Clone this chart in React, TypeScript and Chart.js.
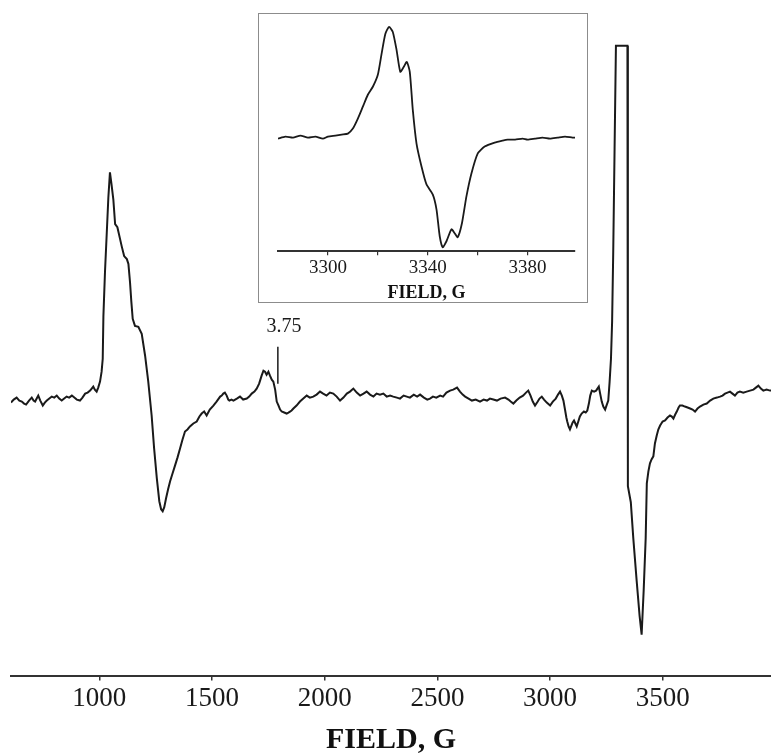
import React, { useEffect, useRef } from "react";
import { Chart, registerables } from "chart.js";

Chart.register(...registerables);

// ---- Main spectrum (magnetic field in G, signal in arbitrary units) ----
const mainField = [
  608, 620, 633, 645, 656, 666, 675, 688, 700, 708, 715, 722, 729, 738, 749, 758, 767, 778, 789, 800,
  811, 822, 833, 844, 855, 866, 878, 889, 900, 914, 925, 937, 948, 959, 966, 973, 980, 988, 995, 1003,
  1010, 1015, 1018, 1025, 1033, 1040, 1047, 1054, 1062, 1070, 1080, 1092, 1099, 1110, 1122, 1129, 1136, 1142, 1148, 1158,
  1173, 1188, 1203, 1217, 1232, 1243, 1255, 1266, 1274, 1281, 1288, 1296, 1305, 1314, 1325, 1336, 1347, 1358, 1369, 1380,
  1391, 1402, 1417, 1432, 1444, 1454, 1465, 1476, 1490, 1506, 1520, 1536, 1543, 1550, 1557, 1565, 1572, 1577, 1586, 1595,
  1610, 1624, 1638, 1654, 1665, 1676, 1688, 1698, 1709, 1720, 1728, 1735, 1742, 1750, 1757, 1765, 1772, 1780, 1787, 1795,
  1802, 1809, 1820, 1831, 1839, 1846, 1853, 1861, 1875, 1890, 1905, 1920, 1934, 1949, 1964, 1979, 1993, 2008, 2023, 2038,
  2053, 2068, 2083, 2098, 2112, 2127, 2142, 2157, 2172, 2186, 2201, 2216, 2230, 2245, 2260, 2275, 2290, 2304, 2320, 2334,
  2350, 2364, 2378, 2395, 2410, 2423, 2440, 2455, 2467, 2480, 2495, 2512, 2525, 2540, 2556, 2570, 2587, 2600, 2612, 2623,
  2638, 2653, 2670, 2689, 2705, 2720, 2733, 2748, 2764, 2780, 2800, 2815, 2825, 2837, 2850, 2865, 2880, 2893, 2903, 2913,
  2923, 2933, 2945, 2953, 2963, 2973, 2985, 3000, 3012, 3025, 3035, 3044, 3052, 3059, 3066, 3072, 3076, 3082, 3088, 3095,
  3100, 3106, 3112, 3118, 3125, 3132, 3140, 3150, 3158, 3165, 3172, 3178, 3185, 3195, 3204, 3210, 3216, 3222, 3229, 3236,
  3244, 3250, 3258, 3264, 3270, 3275, 3280, 3286, 3292, 3343, 3345, 3358, 3369, 3384, 3397, 3406, 3415, 3424, 3429, 3436,
  3443, 3450, 3458, 3465, 3473, 3480, 3488, 3499, 3510, 3521, 3532, 3540, 3547, 3555, 3562, 3570, 3576, 3587, 3598, 3610,
  3621, 3632, 3643, 3654, 3665, 3680, 3695, 3710, 3724, 3740, 3754, 3765, 3776, 3787, 3798, 3809, 3820, 3831, 3842, 3857,
  3872, 3887, 3902, 3913, 3924, 3935, 3946, 3960, 3976, 3980,
];
const mainSignal = [
  -1, 2, 4, 1, 0, -2, -3, 1, 4, 1, 0, 3, 6, 1, -4, -1, 1, 3, 5, 4,
  6, 3, 1, 3, 5, 4, 6, 4, 2, 1, 4, 8, 9, 11, 13, 15, 12, 10, 14, 20,
  30, 43, 86, 130, 170, 205, 230, 218, 203, 178, 175, 163, 156, 146, 143, 138, 120, 100, 83, 76,
  75, 68, 46, 20, -14, -47, -77, -100, -108, -110, -106, -97, -88, -80, -72, -64, -56, -47, -38, -30,
  -28, -25, -22, -20, -15, -12, -10, -14, -8, -4, 0, 5, 6, 8, 9, 6, 2, 1, 2, 1,
  3, 5, 2, 3, 5, 8, 10, 13, 18, 26, 31, 30, 27, 30, 26, 22, 20, 12, 0, -4,
  -8, -10, -11, -12, -11, -10, -9, -7, -4, 0, 3, 6, 4, 5, 7, 10, 8, 6, 9, 8,
  5, 1, 4, 8, 10, 13, 9, 6, 8, 10, 7, 5, 8, 7, 8, 5, 6, 5, 4, 3,
  6, 5, 4, 7, 5, 7, 4, 2, 3, 5, 4, 6, 5, 9, 11, 12, 14, 10, 7, 5,
  3, 1, 2, 0, 2, 1, 3, 2, 1, 3, 4, 2, 0, -2, 1, 4, 6, 9, 11, 6,
  0, -4, 0, 3, 5, 2, -1, -4, 0, 3, 7, 10, 6, 1, -8, -16, -20, -25, -28, -24,
  -21, -19, -22, -25, -20, -15, -12, -10, -11, -9, -2, 6, 11, 10, 11, 13, 15, 8, 0, -5,
  -8, -4, 1, 20, 43, 80, 150, 254, 357, 357, -85, -101, -137, -180, -215, -234, -190, -137, -82, -70,
  -62, -58, -55, -42, -34, -28, -24, -20, -19, -16, -14, -15, -17, -13, -10, -6, -4, -4, -5, -6,
  -7, -8, -10, -7, -5, -3, -2, 1, 3, 4, 5, 6, 8, 9, 10, 8, 6, 9, 10, 9,
  10, 11, 12, 14, 16, 13, 11, 12, 11, 11,
];
const mainTicks = [1000, 1500, 2000, 2500, 3000, 3500];
const mainFieldMin = 608;
const mainFieldMax = 3980;
const mainSignalMin = -275;
const mainSignalMax = 403;

// ---- Inset spectrum ----
const insetField = [
  3280, 3283, 3286, 3289, 3292, 3295, 3298, 3300, 3303, 3305.5, 3308, 3310, 3312, 3314, 3316, 3318, 3320, 3321.5, 3323, 3324.5,
  3326, 3327.5, 3329, 3330.4, 3331.6, 3332.8, 3334, 3335.5, 3337.5, 3339.5, 3342, 3343.5, 3344.8, 3346, 3347.5, 3349.5, 3350.8, 3352, 3353.7, 3355.5,
  3357.5, 3360, 3362.8, 3366.8, 3370, 3372, 3375, 3378, 3380, 3383, 3386, 3389, 3392, 3395, 3398, 3399,
];
const insetSignal = [
  -1, 1, 0, 2, 0, 1, -1, 1, 2, 3, 4, 9, 19, 31, 43, 51, 63, 84, 104, 111,
  106, 88, 66, 71, 76, 66, 28, -6, -29, -47, -57, -72, -99, -110, -104, -92, -96, -100, -86, -59,
  -36, -16, -9, -5, -3, -2, -2, -1, -2, -1, 0, -1, 0, 1, 0, 0,
];
const insetTicks = [3300, 3320, 3340, 3360, 3380];
const insetLabeledTicks = [3300, 3340, 3380];
const insetFieldMin = 3280;
const insetFieldMax = 3399;
const insetSignalMin = -114;
const insetSignalMax = 124;

const axisTitle = "FIELD, G";

// ---- g-value annotation ----
const annotationText = "3.75";
const annotationField = 1792;
const annotationTextField = 1819;
const annotationLineTop = 55;
const annotationLineBottom = 18;
const annotationTextSignal = 75;

const SERIF = '"Liberation Serif", "Times New Roman", serif';
const INK = "#1a1a1a";

export default function App() {
  const mainRef = useRef<HTMLCanvasElement>(null);
  const insetRef = useRef<HTMLCanvasElement>(null);

  useEffect(() => {
    const annotationPlugin = {
      id: "gAnnotation",
      afterDatasetsDraw(chart: any) {
        const { ctx, scales } = chart;
        const x = scales.x;
        const y = scales.y;
        const px = x.getPixelForValue(annotationField);
        ctx.save();
        ctx.strokeStyle = INK;
        ctx.lineWidth = 1.5;
        ctx.beginPath();
        ctx.moveTo(px, y.getPixelForValue(annotationLineTop));
        ctx.lineTo(px, y.getPixelForValue(annotationLineBottom));
        ctx.stroke();
        ctx.font = `20px ${SERIF}`;
        ctx.fillStyle = INK;
        ctx.textAlign = "center";
        ctx.textBaseline = "middle";
        ctx.fillText(annotationText, x.getPixelForValue(annotationTextField), y.getPixelForValue(annotationTextSignal));
        ctx.restore();
      },
    };

    const main = new Chart(mainRef.current as HTMLCanvasElement, {
      type: "line",
      data: {
        datasets: [
          {
            data: mainField.map((f, i) => ({ x: f, y: mainSignal[i] })),
            borderColor: INK,
            borderWidth: 2,
            pointRadius: 0,
            tension: 0,
            fill: false,
          },
        ],
      },
      options: {
        responsive: false,
        animation: false,
        layout: { padding: { left: 11, right: 0, top: 0, bottom: 0 } },
        plugins: { legend: { display: false }, tooltip: { enabled: false } },
        scales: {
          x: {
            type: "linear",
            min: mainFieldMin,
            max: mainFieldMax,
            afterBuildTicks: (s: any) => {
              s.ticks = mainTicks.map((v) => ({ value: v }));
            },
            grid: { drawOnChartArea: false, drawTicks: true, tickLength: 5, color: "#333", lineWidth: 1.5 },
            border: { display: true, color: "#333", width: 2 },
            ticks: {
              font: { family: SERIF, size: 27 },
              color: INK,
              padding: 2,
              maxRotation: 0,
              autoSkip: false,
              callback: (v: any) => String(v),
            },
            title: {
              display: true,
              text: axisTitle,
              font: { family: SERIF, size: 30, weight: "bold", lineHeight: 1 },
              color: "#111",
              padding: { top: 8, bottom: 0 },
            },
          },
          y: { display: false, min: mainSignalMin, max: mainSignalMax },
        },
      } as any,
      plugins: [annotationPlugin],
    });

    const inset = new Chart(insetRef.current as HTMLCanvasElement, {
      type: "line",
      data: {
        datasets: [
          {
            data: insetField.map((f, i) => ({ x: f, y: insetSignal[i] })),
            borderColor: INK,
            borderWidth: 1.8,
            pointRadius: 0,
            tension: 0.2,
            fill: false,
          },
        ],
      },
      options: {
        responsive: false,
        animation: false,
        layout: { padding: { left: 19, right: 12, top: 0, bottom: 0 } },
        plugins: { legend: { display: false }, tooltip: { enabled: false } },
        scales: {
          x: {
            type: "linear",
            min: insetFieldMin,
            max: insetFieldMax,
            afterBuildTicks: (s: any) => {
              s.ticks = insetTicks.map((v) => ({ value: v }));
            },
            grid: { drawOnChartArea: false, drawTicks: true, tickLength: 4, color: "#333", lineWidth: 1.2 },
            border: { display: true, color: "#333", width: 2 },
            ticks: {
              font: { family: SERIF, size: 19 },
              color: INK,
              padding: 1,
              maxRotation: 0,
              autoSkip: false,
              callback: (v: any) => (insetLabeledTicks.includes(Number(v)) ? String(v) : ""),
            },
            title: {
              display: true,
              text: axisTitle,
              font: { family: SERIF, size: 18, weight: "bold", lineHeight: 1 },
              color: "#111",
              padding: { top: 4, bottom: 0 },
            },
          },
          y: { display: false, min: insetSignalMin, max: insetSignalMax },
        },
      } as any,
    });

    return () => {
      main.destroy();
      inset.destroy();
    };
  }, []);

  return (
    <div style={{ position: "absolute", left: 0, top: 0, width: 771, height: 755, background: "#fff" }}>
      <canvas ref={mainRef} width={771} height={755} style={{ position: "absolute", left: 0, top: 0 }} />
      <div
        style={{
          position: "absolute",
          left: 258,
          top: 13,
          width: 330,
          height: 290,
          boxSizing: "border-box",
          border: "1px solid #8c8c8c",
          background: "#fff",
        }}
      >
        <canvas ref={insetRef} width={328} height={288} style={{ display: "block" }} />
      </div>
    </div>
  );
}
